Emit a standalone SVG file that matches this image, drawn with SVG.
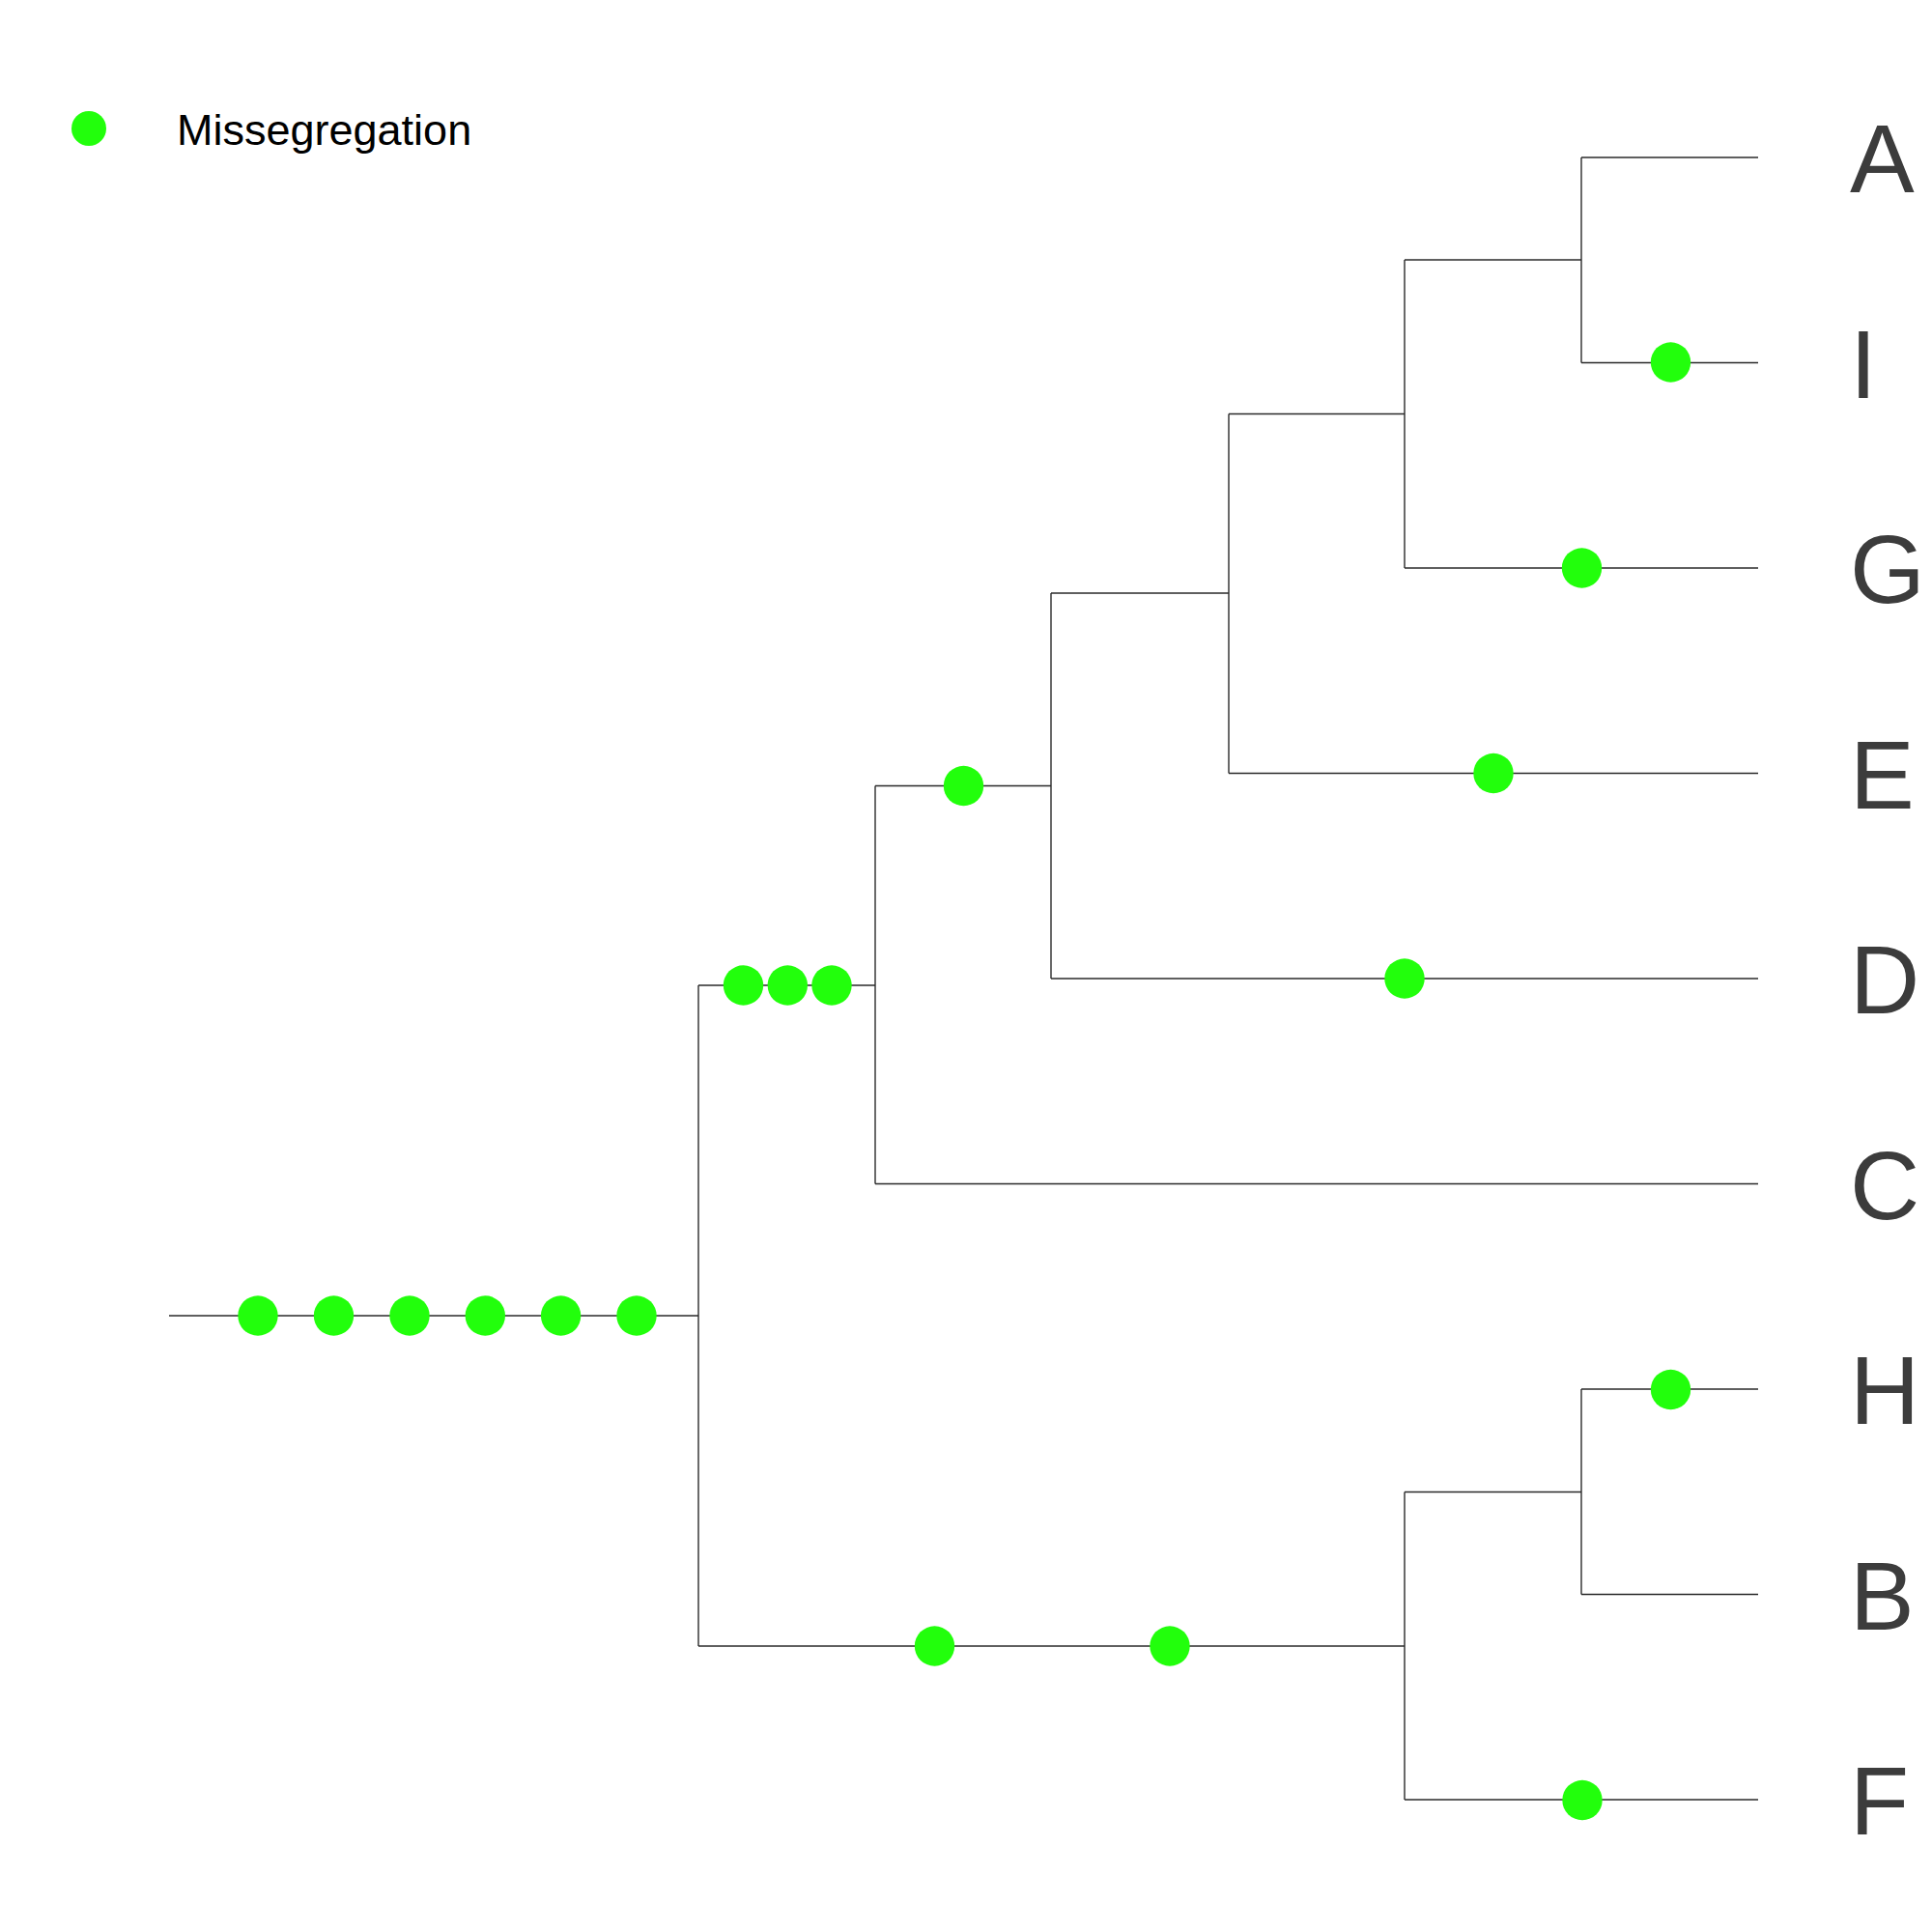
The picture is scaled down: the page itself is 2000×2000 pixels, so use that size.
<svg xmlns="http://www.w3.org/2000/svg" width="2000" height="2000" viewBox="0 0 2000 2000">
<style>
.br{fill:none;stroke:#2a2a2a;stroke-width:1.4}
.dot{fill:#22ff0c}
.lab{font-family:"Liberation Sans",Arial,sans-serif;font-size:100px;fill:#3c3c3c}
.leg{font-family:"Liberation Sans",Arial,sans-serif;font-size:45px;fill:#000}
</style>
<rect width="2000" height="2000" fill="#fff"/>
<g id="legend">
<circle class="dot" cx="92" cy="133" r="18"/>
<text class="leg" x="183" y="150">Missegregation</text>
</g>
<g id="connectors">
<path class="br" d="M175,1362H723"/>
<path class="br" d="M723,1020V1704"/>
<path class="br" d="M723,1020H906"/>
<path class="br" d="M723,1704H1454"/>
<path class="br" d="M906,813.5V1225.5"/>
<path class="br" d="M906,1225.5H1820"/>
<path class="br" d="M906,813.5H1088"/>
<path class="br" d="M1088,614V1013"/>
<path class="br" d="M1088,1013H1820"/>
<path class="br" d="M1088,614H1272"/>
<path class="br" d="M1272,428.5V800.5"/>
<path class="br" d="M1272,800.5H1820"/>
<path class="br" d="M1272,428.5H1454"/>
<path class="br" d="M1454,269V588"/>
<path class="br" d="M1454,588H1820"/>
<path class="br" d="M1454,269H1637"/>
<path class="br" d="M1637,163V375.5"/>
<path class="br" d="M1637,163H1820"/>
<path class="br" d="M1637,375.5H1820"/>
<path class="br" d="M1454,1544.5V1863"/>
<path class="br" d="M1454,1863H1820"/>
<path class="br" d="M1454,1544.5H1637"/>
<path class="br" d="M1637,1438V1650.5"/>
<path class="br" d="M1637,1438H1820"/>
<path class="br" d="M1637,1650.5H1820"/>
</g>
<g id="events">
<circle class="dot" cx="267" cy="1362" r="20.7"/>
<circle class="dot" cx="345.5" cy="1362" r="20.7"/>
<circle class="dot" cx="424" cy="1362" r="20.7"/>
<circle class="dot" cx="502.3" cy="1362" r="20.7"/>
<circle class="dot" cx="580.6" cy="1362" r="20.7"/>
<circle class="dot" cx="659" cy="1362" r="20.7"/>
<circle class="dot" cx="769.5" cy="1020" r="20.7"/>
<circle class="dot" cx="815.3" cy="1020" r="20.7"/>
<circle class="dot" cx="861" cy="1020" r="20.7"/>
<circle class="dot" cx="997.5" cy="813.5" r="20.7"/>
<circle class="dot" cx="1454" cy="1013" r="20.7"/>
<circle class="dot" cx="1546" cy="800.5" r="20.7"/>
<circle class="dot" cx="1637.5" cy="588" r="20.7"/>
<circle class="dot" cx="1729.5" cy="375" r="20.7"/>
<circle class="dot" cx="967.5" cy="1704" r="20.7"/>
<circle class="dot" cx="1211" cy="1704" r="20.7"/>
<circle class="dot" cx="1729.5" cy="1438.5" r="20.7"/>
<circle class="dot" cx="1638" cy="1863.5" r="20.7"/>
</g>
<g id="node-A"><text class="lab" x="1915" y="199">A</text></g>
<g id="node-I"><text class="lab" x="1915" y="411.5">I</text></g>
<g id="node-G"><text class="lab" x="1915" y="624">G</text></g>
<g id="node-E"><text class="lab" x="1915" y="836.5">E</text></g>
<g id="node-D"><text class="lab" x="1915" y="1049">D</text></g>
<g id="node-C"><text class="lab" x="1915" y="1261.5">C</text></g>
<g id="node-H"><text class="lab" x="1915" y="1474">H</text></g>
<g id="node-B"><text class="lab" x="1915" y="1686.5">B</text></g>
<g id="node-F"><text class="lab" x="1915" y="1899">F</text></g>
</svg>
